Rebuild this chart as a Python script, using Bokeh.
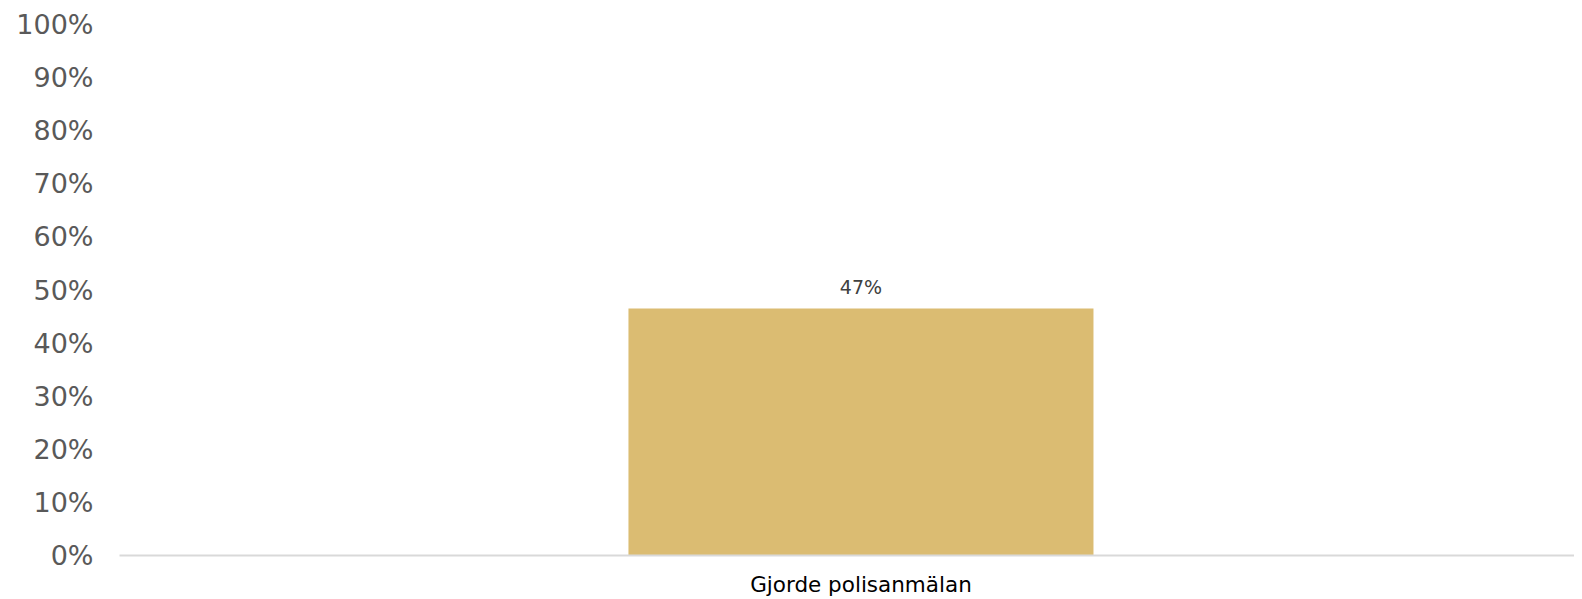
from bokeh.plotting import figure
from bokeh.models import Range1d, FixedTicker, NumeralTickFormatter, ColumnDataSource
from bokeh.core.properties import value
from bokeh.embed import file_html
from bokeh.resources import INLINE

categories = ["Gjorde polisanmälan"]
values = [0.465]
value_labels = ["47%"]
y_ticks = [0.0, 0.1, 0.2, 0.3, 0.4, 0.5, 0.6, 0.7, 0.8, 0.9, 1.0]

xs = list(range(len(categories)))
src = ColumnDataSource(dict(x=xs, top=values, lab=value_labels))

p = figure(width=1574, height=599, output_backend="svg", toolbar_location=None,
           x_range=Range1d(-0.5096, 0.4904), y_range=Range1d(0, 1),
           min_border_left=119, min_border_right=0, min_border_top=24, min_border_bottom=43)
p.outline_line_color = None
p.xgrid.grid_line_color = None
p.ygrid.grid_line_color = None

p.vbar(x="x", top="top", width=0.3196, bottom=0, source=src,
       fill_color="#DBBC72", line_color=None)
p.text(x="x", y="top", text="lab", source=src, text_align="center",
       text_baseline="alphabetic", y_offset=-22, text_color="#404040",
       text_font=value("DejaVu Sans"), text_font_size="19px")

xa = p.xaxis[0]
xa.ticker = FixedTicker(ticks=xs)
xa.major_label_overrides = {i: c for i, c in zip(xs, categories)}
xa.axis_line_color = "#D9D9D9"
xa.axis_line_width = 2
xa.major_tick_line_color = None
xa.minor_tick_line_color = None
xa.major_tick_out = 0
xa.major_label_standoff = 16
xa.major_label_text_font = "DejaVu Sans"
xa.major_label_text_font_size = "21.5px"
xa.major_label_text_color = "#000000"

ya = p.yaxis[0]
ya.ticker = FixedTicker(ticks=y_ticks)
ya.formatter = NumeralTickFormatter(format="0%")
ya.axis_line_color = None
ya.major_tick_line_color = None
ya.minor_tick_line_color = None
ya.major_tick_out = 0
ya.major_label_standoff = 26
ya.major_label_text_font = "DejaVu Sans"
ya.major_label_text_font_size = "27px"
ya.major_label_text_color = "#595959"

open("out.html", "w").write(file_html(p, INLINE))
